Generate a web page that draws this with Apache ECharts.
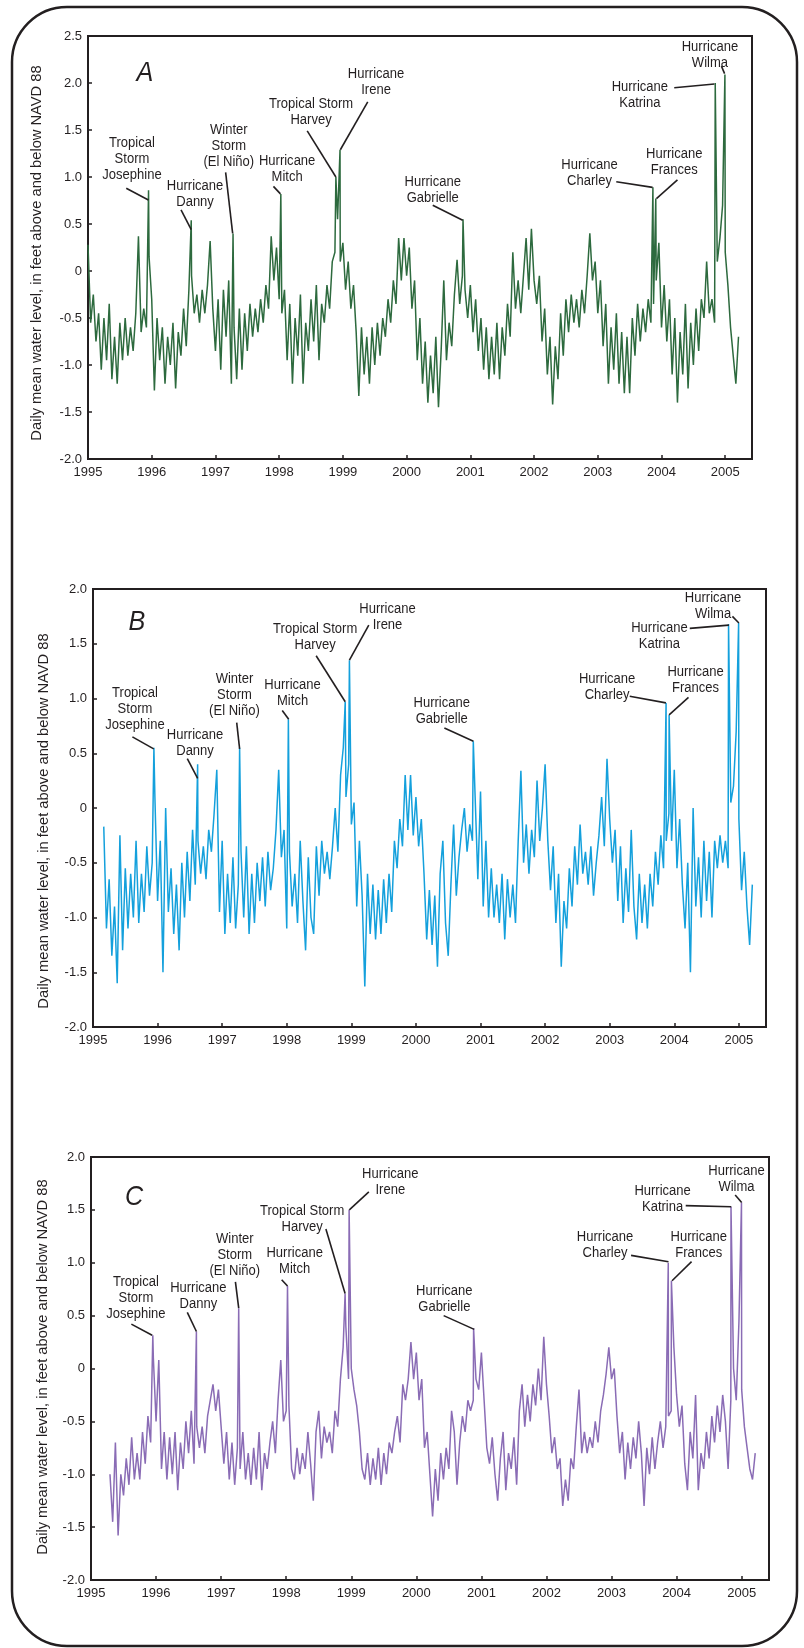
<!DOCTYPE html>
<html>
<head>
<meta charset="utf-8">
<script src="https://cdn.jsdelivr.net/npm/echarts@6/dist/echarts.min.js"></script>
<style>
html, body { margin: 0; padding: 0; background: #fff; }
#chart { width: 804px; height: 1648px; }
</style>
</head>
<body>
<div id="chart"></div>
<script>
// one reading every half month
const STEP = 1 / 24;
const startA = 1995;
const startB = 1995 + 4 / 24;
const startC = 1995 + 7 / 24;

const yearTicks = [1995, 1996, 1997, 1998, 1999, 2000, 2001, 2002, 2003, 2004, 2005];

const levelsA = [
  0.28, -0.55, -0.25, -0.75, -0.45, -1.05, -0.5, -0.95, -0.35, -1.15, -0.7, -1.2, -0.55, -0.95, -0.5, -0.9, -0.6, -0.85, -0.45, 0.37, -0.65, -0.4, -0.6, 0.15,
  -0.3, -1.27, -0.5, -0.95, -0.6, -1.2, -0.7, -1.0, -0.55, -1.25, -0.65, -0.9, -0.4, -0.8, -0.2, -0.05, -0.45, -0.25, -0.55, -0.2, -0.45, -0.15, 0.32, -0.4,
  -0.85, -0.3, -1.05, -0.2, -0.7, -0.1, -1.2, -0.6, -1.15, -0.4, -1.05, -0.45, -0.85, -0.35, -0.7, -0.4, -0.65, -0.3, -0.55, -0.15, -0.4, 0.37, -0.1, 0.25,
  -0.3, -0.45, -0.2, -0.95, -0.35, -1.2, -0.5, -0.9, -0.25, -1.2, -0.55, -0.85, -0.3, -0.75, -0.15, -0.95, -0.35, -0.55, -0.15, -0.4, 0.1, 0.2, 0.55, 0.1,
  0.3, -0.2, 0.1, -0.4, -0.15, -0.65, -1.33, -0.6, -1.1, -0.7, -1.2, -0.6, -1.0, -0.55, -0.9, -0.5, -0.7, -0.3, -0.55, -0.1, -0.35, 0.35, -0.1, 0.35,
  -0.05, 0.25, -0.4, -0.1, -0.95, -0.5, -1.2, -0.75, -1.4, -0.9, -1.3, -0.7, -1.45, -0.85, -0.1, -0.95, -0.55, -0.8, -0.25, 0.12, -0.35, -0.05, -0.2, -0.5,
  -0.15, -0.65, -0.3, -0.85, -0.5, -1.05, -0.6, -1.15, -0.7, -1.1, -0.55, -1.15, -0.6, -0.9, -0.35, -0.7, 0.2, -0.4, -0.1, -0.45, -0.05, 0.35, -0.2, 0.45,
  -0.1, -0.35, -0.05, -0.75, -0.4, -1.1, -0.7, -1.42, -0.8, -1.15, -0.45, -0.9, -0.3, -0.65, -0.25, -0.55, -0.3, -0.6, -0.2, -0.45, -0.05, 0.4, -0.1, 0.1,
  -0.45, -0.1, -0.8, -0.35, -1.2, -0.6, -1.05, -0.45, -1.2, -0.65, -1.3, -0.7, -1.3, -0.5, -0.9, -0.35, -0.75, -0.4, -0.65, -0.3, -0.55, -0.35, -0.1, 0.3,
  -0.6, -0.15, -0.75, -0.3, -1.1, -0.5, -1.4, -0.65, -1.1, -0.35, -1.25, -0.55, -1.0, -0.4, -0.85, -0.3, -0.5, 0.1, -0.45, -0.3, -0.55, 0.1, 0.35, 0.7,
  0.2, -0.15, -0.6, -0.9, -1.2, -0.7
];

const levelsB = [
  -0.17, -1.1, -0.65, -1.35, -0.9, -1.6, -0.25, -1.3, -0.55, -1.1, -0.6, -1.0, -0.3, -1.05, -0.6, -0.95, -0.35, -0.8, -0.5, 0.1,
  -0.85, -0.3, -1.5, 0.0, -0.95, -0.55, -1.15, -0.7, -1.3, -0.5, -1.0, -0.4, -0.85, -0.2, -0.7, -0.3, -0.6, -0.35, -0.65, -0.2, -0.4, -0.05, 0.35, -0.95,
  -0.3, -1.15, -0.6, -1.05, -0.45, -1.1, -0.7, -0.4, -1.0, -0.35, -1.15, -0.6, -1.05, -0.5, -0.85, -0.45, -0.9, -0.4, -0.75, -0.55, -0.2, 0.35, -0.45, -0.2,
  -1.1, -0.4, -0.9, -0.6, -1.05, -0.3, -0.85, -1.3, -0.45, -1.0, -1.15, -0.35, -0.8, -0.3, -0.6, -0.4, -0.65, -0.35, 0.0, -0.4, 0.3, 0.55, 0.1, 0.4,
  -0.15, 0.05, -0.9, -0.3, -0.8, -1.63, -0.6, -1.15, -0.7, -1.2, -0.75, -1.15, -0.65, -1.05, -0.6, -0.95, -0.3, -0.55, -0.1, -0.35, 0.3, -0.2, 0.3, -0.25,
  0.1, -0.35, -0.1, -0.6, -1.2, -0.75, -1.25, -0.8, -1.45, -0.6, -0.3, -1.05, -1.35, -0.7, -0.15, -0.8, -0.45, -0.2, 0.0, -0.4, -0.15, -0.3, 0.1, -0.65,
  0.15, -0.9, -0.3, -1.0, -0.55, -1.0, -0.7, -1.05, -0.6, -1.2, -0.65, -1.0, -0.7, -1.05, -0.3, 0.34, -0.5, -0.15, -0.6, -0.2, -0.45, 0.25, -0.3, 0.0,
  0.4, -0.3, -0.75, -0.35, -1.05, -0.6, -1.45, -0.85, -1.1, -0.55, -0.9, -0.35, -0.7, -0.15, -0.6, -0.4, -0.7, -0.35, -0.8, -0.5, -0.25, 0.1, -0.35, 0.45,
  -0.1, -0.5, -0.2, -0.85, -0.35, -1.05, -0.55, -0.95, -0.2, -0.9, -1.2, -0.6, -1.05, -0.7, -1.1, -0.6, -0.9, -0.4, -0.7, -0.25, -0.55, -0.3, -0.05, -0.3,
  0.35, -0.55, -0.1, -0.7, -1.1, -0.5, -1.5, 0.0, -0.9, -0.45, -1.0, -0.3, -0.85, -0.4, -1.0, -0.3, -0.55, -0.25, -0.5, -0.3, -0.55, 0.05, 0.2, 0.7,
  -0.1, -0.75, -0.4, -0.9, -1.25, -0.7
];

const levelsC = [
  -1.0, -1.45, -0.7, -1.58, -1.0, -1.2, -0.85, -1.1, -0.65, -1.05, -0.8, -1.05, -0.6, -0.9, -0.45, -0.7, 0.1,
  -0.5, 0.08, -0.95, -0.6, -1.05, -0.65, -1.0, -0.6, -1.15, -0.7, -0.95, -0.5, -0.8, -0.4, -0.9, -0.55, -0.75, -0.55, -0.8, -0.45, -0.3, -0.15, -0.4, -0.2,
  -0.55, -0.9, -0.6, -1.05, -0.7, -1.1, -0.75, -0.95, -0.6, -1.05, -0.8, -1.1, -0.75, -1.05, -0.6, -1.15, -0.8, -0.95, -0.7, -0.5, -0.8, -0.3, 0.08, -0.5,
  -0.4, -0.35, -0.95, -1.05, -0.75, -1.0, -0.8, -0.95, -0.6, -0.9, -1.25, -0.6, -0.4, -0.85, -0.55, -0.7, -0.6, -0.8, -0.4, -0.55, -0.1, 0.2, 0.4, -0.1,
  0.0, -0.2, -0.35, -0.6, -0.95, -1.05, -0.8, -1.1, -0.85, -1.05, -0.75, -1.1, -0.8, -1.0, -0.7, -0.8, -0.6, -0.45, -0.7, -0.15, -0.3, -0.1, 0.25, -0.1,
  0.15, -0.3, -0.1, -0.75, -0.6, -1.0, -1.4, -0.95, -1.25, -0.8, -1.05, -0.75, -0.95, -0.4, -0.6, -1.1, -0.7, -0.45, -0.6, -0.3, -0.4, -0.3, -0.1, -0.2,
  0.15, -0.3, -0.75, -0.9, -0.65, -1.0, -1.25, -0.85, -0.6, -1.15, -0.8, -0.95, -0.65, -1.1, -0.4, -0.15, -0.55, -0.25, -0.5, -0.15, -0.35, 0.0, -0.3, 0.3,
  -0.15, -0.45, -0.8, -0.65, -0.95, -0.85, -1.3, -1.05, -1.25, -0.85, -0.95, -0.55, -0.2, -0.8, -0.6, -0.8, -0.65, -0.75, -0.5, -0.7, -0.4, -0.25, -0.05, 0.2,
  -0.1, 0.0, -0.45, -0.8, -0.6, -1.05, -0.7, -0.95, -0.65, -0.85, -0.5, -0.8, -1.3, -0.75, -1.0, -0.65, -0.95, -0.7, -0.5, -0.75, -0.55, -0.45, -0.4, 0.2,
  -0.25, -0.55, -0.35, -0.9, -1.15, -0.6, -0.85, -0.25, -1.15, -0.8, -0.95, -0.6, -0.85, -0.45, -0.7, -0.35, -0.6, -0.25, -0.5, -0.95, -0.3, 0.0, -0.3, 0.45,
  -0.2, -0.55, -0.75, -0.95, -1.05, -0.8
];

const stormNames = [
  'Tropical\nStorm\nJosephine', 'Hurricane\nDanny', 'Winter\nStorm\n(El Niño)', 'Hurricane\nMitch',
  'Tropical Storm\nHarvey', 'Hurricane\nIrene', 'Hurricane\nGabrielle', 'Hurricane\nCharley',
  'Hurricane\nFrances', 'Hurricane\nKatrina', 'Hurricane\nWilma'
];

// storm peaks [year, level], same order as stormNames
const stormsA = [[1995.95, 0.86], [1996.62, 0.54], [1997.276, 0.40], [1998.026, 0.82], [1998.89, 1.0], [1998.955, 1.29],
  [2000.885, 0.55], [2003.865, 0.89], [2003.91, 0.77], [2004.843, 2.0], [2004.995, 2.09]];
const stormsB = [[1995.943, 0.55], [1996.62, 0.4], [1997.27, 0.55], [1998.025, 0.81], [1998.905, 0.97], [1998.97, 1.35],
  [2000.888, 0.61], [2003.873, 0.96], [2003.92, 0.85], [2004.84, 1.68], [2004.996, 1.69]];
const stormsC = [[1995.95, 0.315], [1996.62, 0.35], [1997.27, 0.57], [1998.02, 0.78], [1998.905, 0.71], [1998.967, 1.5],
  [2000.88, 0.38], [2003.872, 1.0], [2003.92, 0.83], [2004.836, 1.53], [2004.997, 1.57]];

// label centre [t, v], leader from [t, v] to [t, v]
const notesA = [
  [1995.69, 1.19, 1995.60, 0.88, 1995.948, 0.755],
  [1996.68, 0.82, 1996.46, 0.65, 1996.62, 0.44],
  [1997.21, 1.33, 1997.16, 1.05, 1997.27, 0.40],
  [1998.125, 1.09, 1997.91, 0.90, 1998.02, 0.82],
  [1998.5, 1.69, 1998.44, 1.49, 1998.89, 1.0],
  [1999.52, 2.01, 1999.39, 1.80, 1998.96, 1.29],
  [2000.41, 0.87, 2000.41, 0.70, 2000.88, 0.54],
  [2002.87, 1.05, 2003.29, 0.95, 2003.86, 0.89],
  [2004.2, 1.16, 2004.25, 0.97, 2003.92, 0.77],
  [2003.66, 1.88, 2004.20, 1.95, 2004.83, 1.99],
  [2004.76, 2.30, 2004.94, 2.18, 2004.99, 2.10]
];
const notesB = [
  [1995.65, 0.91, 1995.61, 0.65, 1995.94, 0.54],
  [1996.58, 0.60, 1996.46, 0.45, 1996.62, 0.27],
  [1997.19, 1.03, 1997.225, 0.78, 1997.27, 0.54],
  [1998.09, 1.05, 1997.93, 0.89, 1998.03, 0.81],
  [1998.44, 1.56, 1998.455, 1.39, 1998.905, 0.97],
  [1999.56, 1.75, 1999.27, 1.67, 1998.97, 1.35],
  [2000.40, 0.89, 2000.44, 0.73, 2000.89, 0.61],
  [2002.96, 1.11, 2003.31, 1.02, 2003.87, 0.96],
  [2004.33, 1.17, 2004.22, 1.01, 2003.92, 0.85],
  [2003.77, 1.57, 2004.24, 1.64, 2004.845, 1.67],
  [2004.60, 1.85, 2004.90, 1.75, 2005.0, 1.69]
];
const notesC = [
  [1995.69, 0.67, 1995.62, 0.42, 1995.94, 0.315],
  [1996.65, 0.69, 1996.48, 0.53, 1996.62, 0.35],
  [1997.21, 1.08, 1997.22, 0.82, 1997.27, 0.57],
  [1998.13, 1.02, 1997.93, 0.84, 1998.02, 0.78],
  [1998.245, 1.42, 1998.61, 1.32, 1998.905, 0.71],
  [1999.60, 1.77, 1999.27, 1.67, 1998.97, 1.5],
  [2000.43, 0.66, 2000.42, 0.50, 2000.89, 0.37],
  [2002.90, 1.17, 2003.30, 1.07, 2003.875, 1.01],
  [2004.34, 1.17, 2004.23, 1.01, 2003.93, 0.83],
  [2003.785, 1.61, 2004.14, 1.54, 2004.84, 1.53],
  [2004.92, 1.79, 2004.90, 1.64, 2005.0, 1.57]
];

const INK = '#231f20';
const PLAIN = "'Liberation Sans', Arial, sans-serif";
const TITLE = 'Daily mean water level, in feet above and below NAVD 88';

function buildSeries(start, levels, storms) {
  const pts = levels.map((v, i) => [start + i * STEP, v]);
  return pts.concat(storms).sort((a, b) => a[0] - b[0]);
}

const panels = [
  { letter: 'A', grid: { left: 88, top: 36, width: 664, height: 423 }, yMin: -2, yMax: 2.5,
    color: '#2d6a3e', data: buildSeries(startA, levelsA, stormsA), notes: notesA,
    letterPos: [145, 73], titlePos: [37, 253] },
  { letter: 'B', grid: { left: 93, top: 589, width: 673, height: 438 }, yMin: -2, yMax: 2,
    color: '#14a0dc', data: buildSeries(startB, levelsB, stormsB), notes: notesB,
    letterPos: [137, 622], titlePos: [44, 821] },
  { letter: 'C', grid: { left: 91, top: 1157, width: 678, height: 423 }, yMin: -2, yMax: 2,
    color: '#8a6cb5', data: buildSeries(startC, levelsC, stormsC), notes: notesC,
    letterPos: [134, 1197], titlePos: [43, 1367] }
];

const chart = echarts.init(document.getElementById('chart'));

const option = {
  animation: false,
  backgroundColor: '#fff',
  grid: panels.map(p => Object.assign({ show: true, borderColor: INK, borderWidth: 2, backgroundColor: 'transparent' }, p.grid)),
  xAxis: panels.map((p, k) => ({
    type: 'value',
    gridIndex: k,
    min: 1995,
    max: 2005.42,
    interval: 1,
    axisLine: { show: false, onZero: false },
    axisTick: { show: true, inside: true, length: 4, lineStyle: { color: INK, width: 1.5 } },
    axisLabel: {
      color: INK, fontFamily: PLAIN, fontSize: 13, margin: 7, showMaxLabel: false,
      formatter: v => yearTicks.includes(Math.round(v)) && Math.abs(v - Math.round(v)) < 1e-6 ? String(Math.round(v)) : ''
    },
    splitLine: { show: false }
  })),
  yAxis: panels.map((p, k) => ({
    type: 'value',
    gridIndex: k,
    min: p.yMin,
    max: p.yMax,
    interval: 0.5,
    axisLine: { show: false, onZero: false },
    axisTick: { show: true, inside: true, length: 4, lineStyle: { color: INK, width: 1.5 } },
    axisLabel: {
      color: INK, fontFamily: PLAIN, fontSize: 13, margin: 6,
      formatter: v => (Math.abs(v) < 1e-9 ? '0' : v.toFixed(1))
    },
    splitLine: { show: false }
  })),
  series: panels.map((p, k) => ({
    type: 'line',
    xAxisIndex: k,
    yAxisIndex: k,
    data: p.data,
    showSymbol: false,
    symbol: 'none',
    silent: true,
    lineStyle: { color: p.color, width: 1.5 }
  }))
};

chart.setOption(option);

// frame, titles, letters and storm notes
const graphics = [{
  type: 'rect',
  shape: { x: 12, y: 7, width: 785, height: 1639, r: 55 },
  style: { fill: 'none', stroke: INK, lineWidth: 2.5 },
  z: 10
}];

panels.forEach((p, k) => {
  graphics.push({
    type: 'text', x: p.titlePos[0], y: p.titlePos[1], rotation: Math.PI / 2,
    style: { text: TITLE, fill: INK, fontFamily: PLAIN, fontSize: 14.7, align: 'center', verticalAlign: 'middle' },
    z: 10
  });
  graphics.push({
    type: 'text', x: p.letterPos[0], y: p.letterPos[1], scaleX: 0.9,
    style: { text: p.letter, fill: INK, fontFamily: PLAIN, fontSize: 28, fontStyle: 'italic', align: 'center', verticalAlign: 'middle' },
    z: 10
  });
  p.notes.forEach((n, j) => {
    const c = chart.convertToPixel({ gridIndex: k }, [n[0], n[1]]);
    const a = chart.convertToPixel({ gridIndex: k }, [n[2], n[3]]);
    const b = chart.convertToPixel({ gridIndex: k }, [n[4], n[5]]);
    graphics.push({
      type: 'text', x: c[0], y: c[1], scaleX: 0.84,
      style: { text: stormNames[j], fill: INK, fontFamily: PLAIN, fontSize: 15.5, lineHeight: 16, align: 'center', verticalAlign: 'middle' },
      z: 10
    });
    graphics.push({
      type: 'line', shape: { x1: a[0], y1: a[1], x2: b[0], y2: b[1] },
      style: { stroke: INK, lineWidth: 1.6 },
      z: 10
    });
  });
});

chart.setOption({ graphic: graphics });
</script>
</body>
</html>
